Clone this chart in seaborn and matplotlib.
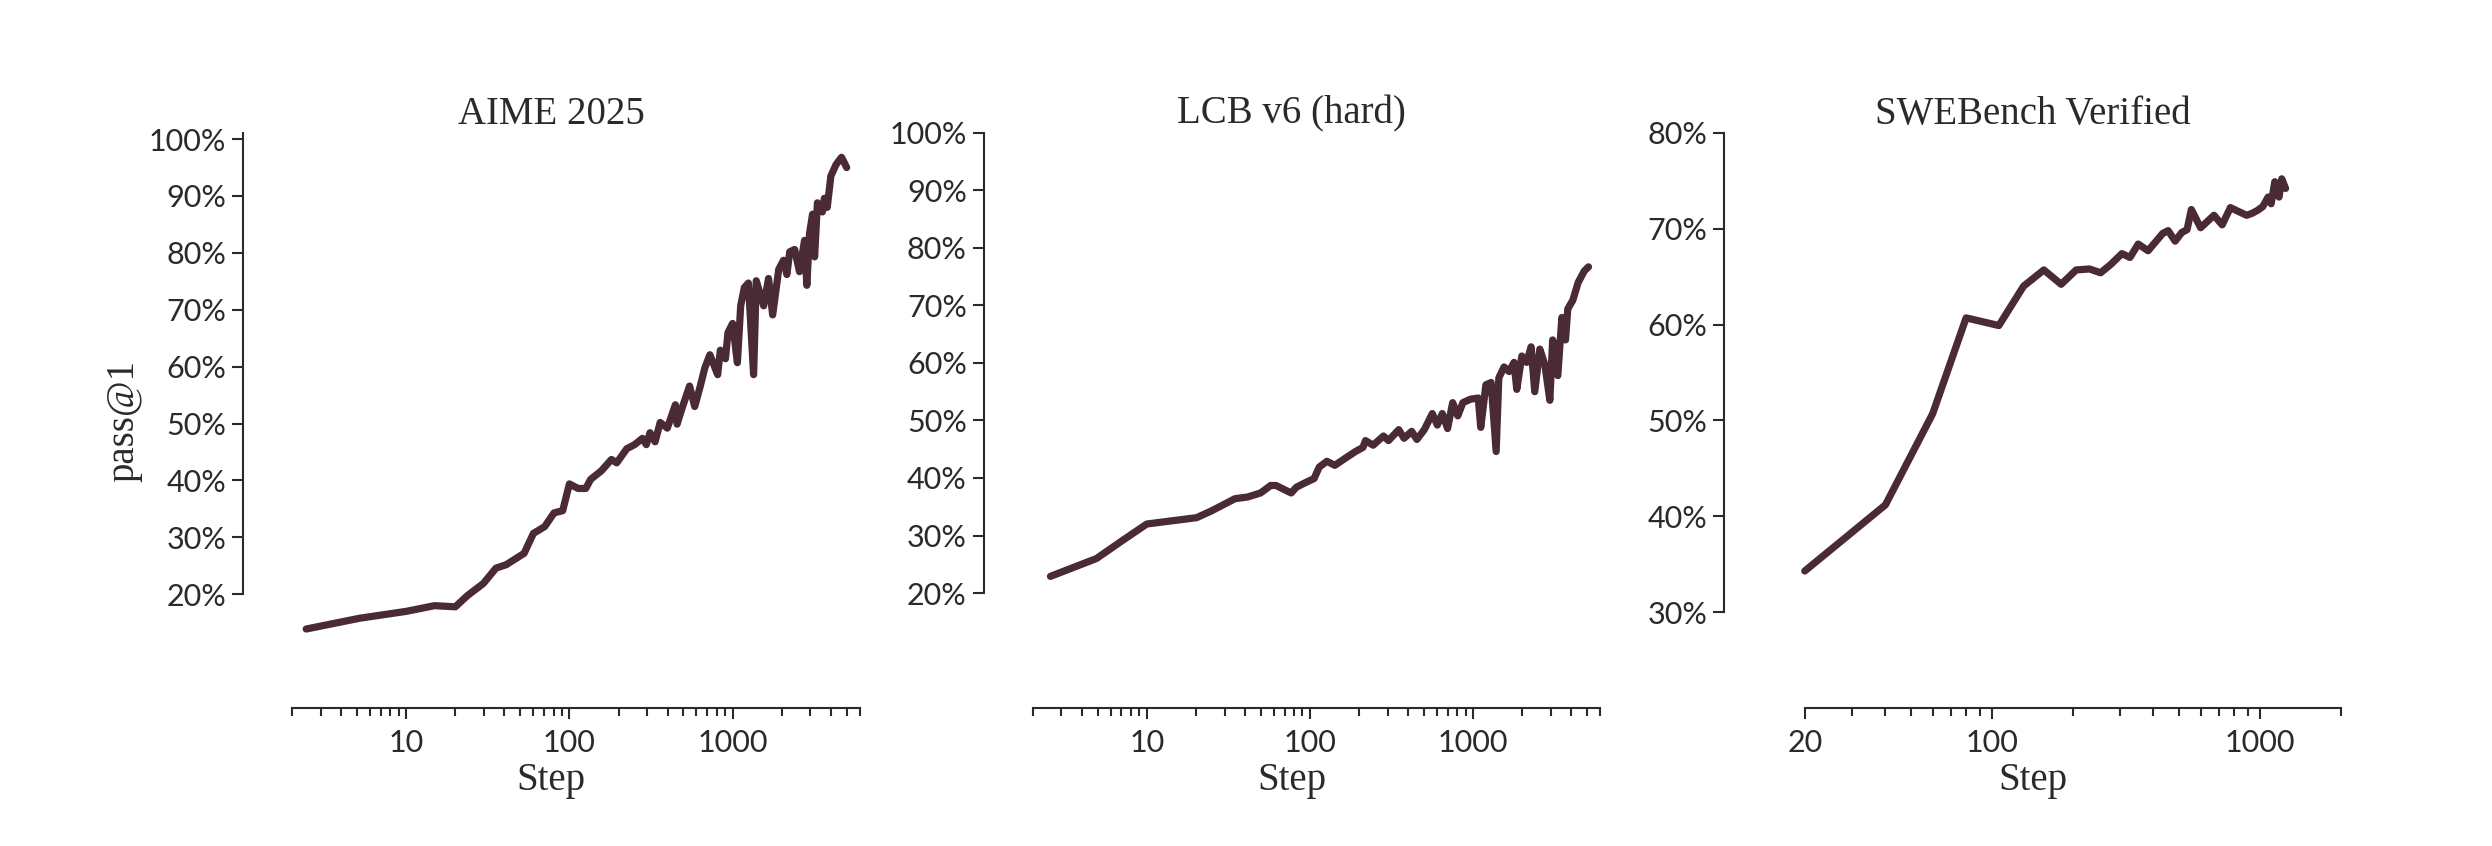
import matplotlib
matplotlib.use("Agg")
import matplotlib.pyplot as plt
import matplotlib.ticker as mticker
import pandas as pd
import seaborn as sns

# --- data (step, pass@1 in %) ---
aime_steps = [2.44, 5.2, 10, 14.9, 20, 23.8, 29.7, 35.5, 41, 52.8, 60.2, 70.6, 80.5, 91, 100,
              113, 126, 135, 157, 181, 195, 225, 251, 280, 296, 312, 335, 360, 398, 446,
              457, 490, 545, 586, 630, 676, 726, 810, 841, 904, 937, 1000, 1070, 1121, 1180,
              1250, 1345, 1396, 1550, 1660, 1760, 1917, 2050, 2150, 2240, 2400, 2570, 2760, 2850, 2960,
              3090, 3180, 3310, 3550, 3650, 3800, 4000, 4300, 4650, 5000]
aime_pass = [13.9, 15.8, 17.0, 18.0, 17.8, 19.8, 21.9, 24.6, 25.2, 27.2, 30.7, 31.9, 34.3, 34.7, 39.4,
             38.6, 38.6, 40.2, 41.7, 43.7, 43.1, 45.6, 46.3, 47.4, 46.3, 48.4, 46.8, 50.2, 49.2, 53.3,
             49.9, 52.7, 56.6, 53.0, 56.3, 59.8, 62.1, 58.6, 62.9, 61.4, 66.0, 67.6, 60.7, 70.7, 73.9,
             74.7, 58.6, 75.1, 70.7, 75.5, 69.1, 77.1, 78.7, 76.2, 80.2, 80.6, 76.7, 82.2, 74.3, 83.4,
             86.8, 79.3, 88.8, 87.2, 89.6, 88.0, 93.5, 95.5, 96.8, 95.0]

lcb_steps = [2.57, 4.92, 7.07, 10, 20.2, 25, 34.7, 41.6, 49.8, 57.5, 61.9, 76.7, 82.6, 95.5, 106,
             114, 127, 142, 164, 190, 211, 219, 244, 282, 303, 350, 377, 420, 452, 502,
             562, 603, 647, 697, 749, 805, 865, 964, 1074, 1113, 1197, 1288, 1383, 1436, 1546,
             1660, 1780, 1850, 1987, 2130, 2265, 2384, 2561, 2750, 2950, 3069, 3300, 3495, 3680, 3800,
             4080, 4400, 4800, 5090]
lcb_pass = [22.9, 26.0, 29.1, 32.0, 33.1, 34.3, 36.4, 36.7, 37.4, 38.7, 38.7, 37.4, 38.4, 39.3, 39.9,
            41.9, 42.9, 42.2, 43.4, 44.6, 45.3, 46.5, 45.7, 47.3, 46.5, 48.4, 46.9, 48.1, 46.7, 48.4,
            51.2, 49.2, 51.2, 48.6, 53.1, 50.8, 53.1, 53.7, 53.9, 48.8, 56.2, 56.6, 44.6, 57.4, 59.3,
            58.5, 60.1, 55.4, 61.2, 60.1, 62.8, 55.0, 62.4, 59.7, 53.5, 64.0, 57.8, 67.9, 64.0, 69.4,
            70.9, 74.0, 76.0, 76.7]

swe_steps = [20, 40, 60, 80, 106, 131, 156, 181, 206, 231, 254, 278, 305, 327, 351,
             382, 433, 454, 482, 510, 534, 554, 600, 673, 722, 775, 830, 891, 933, 977,
             1023, 1072, 1100, 1135, 1177, 1205, 1245]
swe_pass = [34.3, 41.2, 50.7, 60.7, 59.9, 64.0, 65.7, 64.2, 65.7, 65.8, 65.4, 66.3, 67.4, 67.0, 68.4,
            67.7, 69.5, 69.8, 68.7, 69.6, 69.9, 72.0, 70.1, 71.4, 70.4, 72.2, 71.8, 71.4, 71.6, 71.9,
            72.3, 73.3, 72.6, 74.9, 73.3, 75.2, 74.2]

titles = ["AIME 2025", "LCB v6 (hard)", "SWEBench Verified"]
yticks_p12 = [20, 30, 40, 50, 60, 70, 80, 90, 100]
yticks_p3 = [30, 40, 50, 60, 70, 80]
xmajor_p12 = [10, 100, 1000]
xmajor_p3 = [20, 100, 1000]

LINE = "#4a2a33"
INK = "#2a2a2a"
SERIF = ["Liberation Serif", "DejaVu Serif"]

sns.set_theme(style="ticks")
plt.rcParams["font.family"] = ["Lato", "DejaVu Sans"]

fig, axes = plt.subplots(1, 3, figsize=(24.92, 8.46), dpi=100)
fig.subplots_adjust(left=0.0975, right=0.9393, bottom=0.163, top=0.843, wspace=0.201)

panels = [
    # title, steps, pass, xlim, ylim, yticks, xmajor, xbounds, ybounds
    (titles[0], aime_steps, aime_pass, (1, 6000), (0, 101.1), yticks_p12, xmajor_p12, (2, 6000), (20, 101.1)),
    (titles[1], lcb_steps, lcb_pass, (1, 6000), (0, 100), yticks_p12, xmajor_p12, (2, 6000), (20, 100)),
    (titles[2], swe_steps, swe_pass, (10, 2000), (20, 80), yticks_p3, xmajor_p3, (20, 2000), (30, 80)),
]

for i, (ax, (title, xs, ys, xlim, ylim, yt, xmaj, xb, yb)) in enumerate(zip(axes, panels)):
    df = pd.DataFrame({"step": xs, "pass": ys})
    sns.lineplot(data=df, x="step", y="pass", ax=ax, color=LINE, linewidth=5.2,
                 estimator=None, sort=False)
    ln = ax.lines[0]
    ln.set_solid_capstyle("round")
    ln.set_solid_joinstyle("round")

    ax.set_xscale("log")
    ax.set_xlim(*xlim)
    ax.set_ylim(*ylim)

    # minor ticks on every integer multiple inside the spine range
    minors = [m * 10 ** e for e in range(0, 4) for m in range(2, 10)
              if xb[0] <= m * 10 ** e <= xb[1] and m * 10 ** e not in xmaj]
    ax.xaxis.set_major_locator(mticker.FixedLocator(xmaj))
    ax.xaxis.set_minor_locator(mticker.FixedLocator(minors))
    ax.xaxis.set_major_formatter(mticker.FuncFormatter(lambda v, _: f"{v:g}"))
    ax.xaxis.set_minor_formatter(mticker.NullFormatter())

    ax.yaxis.set_major_locator(mticker.FixedLocator(yt))
    ax.yaxis.set_major_formatter(mticker.FuncFormatter(lambda v, _: f"{v:.0f}%"))

    sns.despine(ax=ax)
    ax.spines["left"].set_bounds(*yb)
    ax.spines["bottom"].set_bounds(*xb)
    for s in ("left", "bottom"):
        ax.spines[s].set_linewidth(1.5)
        ax.spines[s].set_color(INK)

    ax.tick_params(axis="both", which="major", length=8, width=1.5, color=INK,
                   labelsize=22, labelcolor=INK, pad=4)
    ax.tick_params(axis="x", which="major", pad=7)
    ax.tick_params(axis="x", which="minor", length=6, width=1.5, color=INK)

    ax.set_title(title, fontsize=28, family=SERIF, color=INK, pad=4)
    ax.set_xlabel("Step", fontsize=28, family=SERIF, color=INK, labelpad=4)
    if i == 0:
        ax.set_ylabel("pass@1", fontsize=28, family=SERIF, color=INK, labelpad=5)
    else:
        ax.set_ylabel("")

fig.savefig("out.png", dpi=100)
